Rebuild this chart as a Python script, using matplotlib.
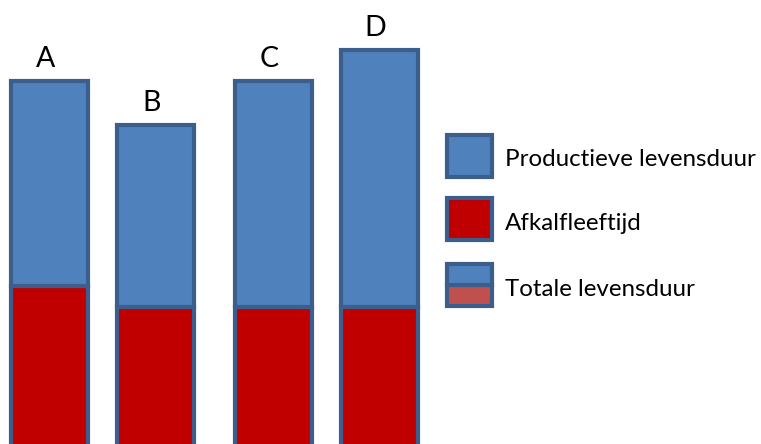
import matplotlib
matplotlib.use("Agg")
import matplotlib.pyplot as plt
from matplotlib.patches import Rectangle

# data (arbitrary units)
labels = ["A", "B", "C", "D"]
afkalfleeftijd = [166, 145, 145, 145]
productief = [205, 182, 226, 257]
legend_labels = ["Productieve levensduur", "Afkalfleeftijd", "Totale levensduur"]

# layout
x_pos = [49.5, 155.5, 273, 379.5]
bar_w = 77

blue = "#4f81bd"
red = "#c00000"
red_light = "#c0504d"
edge = "#3b5e8c"

plt.rcParams["font.family"] = ["Lato", "DejaVu Sans"]

fig = plt.figure(figsize=(7.61, 4.44), dpi=100)
ax = fig.add_axes([0, 0, 1, 1])
ax.set_xlim(0, 761)
ax.set_ylim(8, 452)
ax.axis("off")

ax.bar(x_pos, afkalfleeftijd, width=bar_w, color=red, edgecolor=edge, linewidth=3)
ax.bar(x_pos, productief, width=bar_w, bottom=afkalfleeftijd, color=blue,
       edgecolor=edge, linewidth=3)

for x, a, p, lab in zip(x_pos, afkalfleeftijd, productief, labels):
    ax.text(x - 4, a + p + 22, lab, ha="center", va="center", fontsize=20.5)

# legend drawn by hand
leg_x, leg_w, leg_h = 447, 45, 42
rows = [(275, blue, None), (212, red, None), (146, blue, red_light)]
for (y0, c1, c2), txt in zip(rows, legend_labels):
    if c2 is None:
        ax.add_patch(Rectangle((leg_x, y0), leg_w, leg_h, facecolor=c1,
                               edgecolor=edge, linewidth=3))
    else:
        ax.add_patch(Rectangle((leg_x, y0), leg_w, leg_h / 2, facecolor=c2,
                               edgecolor="none"))
        ax.add_patch(Rectangle((leg_x, y0 + leg_h / 2), leg_w, leg_h / 2,
                               facecolor=c1, edgecolor="none"))
        ax.plot([leg_x, leg_x + leg_w], [y0 + leg_h / 2] * 2, color=edge, lw=3)
        ax.add_patch(Rectangle((leg_x, y0), leg_w, leg_h, facecolor="none",
                               edgecolor=edge, linewidth=3))
    ax.text(505, y0 + leg_h / 2 - 4, txt, ha="left", va="center", fontsize=17.4)

fig.savefig("out.png", dpi=100)
